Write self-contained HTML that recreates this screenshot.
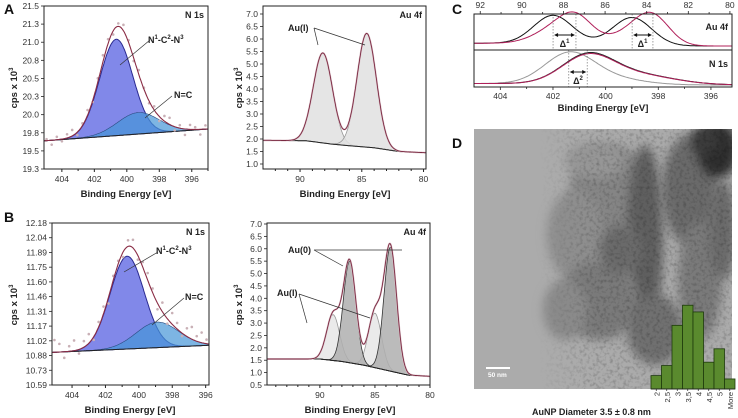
<!DOCTYPE html>
<html><head><meta charset="utf-8"><style>
html,body{margin:0;padding:0;background:#fff;width:738px;height:418px;overflow:hidden}
svg{display:block;font-family:"Liberation Sans",Arial,sans-serif}
.t{font-size:8.5px;fill:#333}
.ti{font-size:9.5px;font-weight:bold;fill:#222}
.pl{font-size:14px;font-weight:bold;fill:#111}
.an{font-size:9px;font-weight:bold;fill:#222}
</style></head><body>
<svg id="fig" width="738" height="418" viewBox="0 0 738 418">
<defs>
<filter id="bl" x="-50%" y="-50%" width="200%" height="200%"><feGaussianBlur stdDeviation="5"/></filter>
<filter id="noise" x="0" y="0" width="100%" height="100%"><feTurbulence type="fractalNoise" baseFrequency="0.3" numOctaves="2" seed="3"/><feColorMatrix type="matrix" values="0 0 0 0 0  0 0 0 0 0  0 0 0 0 0  0 0 0 -2.2 1.2"/></filter>
<linearGradient id="fadeG" x1="0" x2="1" y1="0" y2="0"><stop offset="0" stop-color="#000"/><stop offset="0.25" stop-color="#000"/><stop offset="0.45" stop-color="#fff"/><stop offset="1" stop-color="#fff"/></linearGradient>
<mask id="fadeM"><rect x="474" y="129" width="258" height="260" fill="url(#fadeG)"/></mask>
<clipPath id="temclip"><rect x="474" y="129" width="258" height="260"/></clipPath>
</defs>
</svg>
<script>
// ---------- data ----------
const aN1sPeaks = [[400.65,1.30,2.4],[399.3,0.29,3.0]];          // center, height, fwhm
const aN1sBase = [[405.1,19.68],[395,19.84]];
const aN1sNoise = [0.02,-0.06,0.04,-0.03,0.05,0.08,-0.04,0.03,0.07,-0.02,0.05,0.09,0.06,-0.05,0.04,0.08,0.03,-0.04,0.06,0.02,-0.03,0.05,-0.06,0.07,0.09,-0.05,0.04,-0.08,0.06,0.03,-0.07,0.05];
const aAuPeaks = [[88.15,3.6,1.85],[84.6,4.55,1.85]];
const aAuBase = [[93,1.95],[89.5,1.93],[87.5,1.8],[86,1.73],[84,1.65],[82,1.5],[79.8,1.45]];
const bN1sPeaks = [[400.7,0.91,2.4],[398.9,0.25,3.0]];
const bN1sBase = [[405.2,10.91],[395.8,10.98]];
const bN1sNoise = [0.12,0.08,-0.06,0.05,0.1,-0.04,0.06,0.09,-0.03,0.05,0.07,-0.06,0.04,0.03,-0.05,0.06,0.08,-0.04,0.05,0.07,0.04,-0.06,0.09,-0.05,0.11,0.06,-0.03,0.08,0.12,0.05,0.1,0.04];
const bAu0Peaks = [[87.3,4.1,1.35],[83.6,5.0,1.35]];
const bAu1Peaks = [[88.8,1.85,1.4],[85.0,2.2,1.4]];
const bAuBase = [[94.8,1.55],[90,1.55],[88,1.45],[86,1.3],[84,1.1],[82,0.9],[80,0.85]];
const cAuRef = [[88.5,1,2.2],[84.7,1,2.2]];
const cAuNew = [[87.4,1,1.9],[83.7,1.05,1.9],[88.6,0.45,2.2],[84.8,0.45,2.2]];
const cN1Ref = [[401.4,1,2.2],[400.0,0.25,3.0]];
const cN1New = [[400.7,0.9,2.3],[398.9,0.35,3.4]];
const histCats = ["2","2,5","3","3,5","4","4,5","5","More"];
const histVals = [4,7,19,25,23,8,12,3];
const yTicksAN = ["19.3","19.5","19.8","20.0","20.3","20.5","20.8","21.0","21.3","21.5"];
const yTicksBN = ["10.59","10.73","10.88","11.02","11.17","11.31","11.46","11.60","11.75","11.89","12.04","12.18"];
const auTicks = [0.5,1.0,1.5,2.0,2.5,3.0,3.5,4.0,4.5,5.0,5.5,6.0,6.5,7.0];

// ---------- helpers ----------
const svg=document.getElementById('fig');const NS='http://www.w3.org/2000/svg';
function mk(tag,attrs,parent){const e=document.createElementNS(NS,tag);for(const k in attrs)e.setAttribute(k,attrs[k]);(parent||svg).appendChild(e);return e;}
function g(x,p){return p[1]*Math.exp(-4*Math.LN2*(x-p[0])*(x-p[0])/(p[2]*p[2]));}
function base(b,x){for(let i=0;i<b.length-1;i++){const a=b[i],c=b[i+1];if((x<=a[0]&&x>=c[0])){return a[1]+(c[1]-a[1])*(x-a[0])/(c[0]-a[0]);}}return x>b[0][0]?b[0][1]:b[b.length-1][1];}
function scale(box,xr,yr){return{sx:x=>box[0]+(x-xr[0])/(xr[1]-xr[0])*(box[2]-box[0]),sy:y=>box[3]-(y-yr[0])/(yr[1]-yr[0])*(box[3]-box[1])};}
function curvePts(s,xr,f,n){n=n||200;const pts=[];for(let i=0;i<=n;i++){const x=xr[0]+(xr[1]-xr[0])*i/n;pts.push([s.sx(x),s.sy(f(x))]);}return pts;}
function path(pts){return 'M'+pts.map(p=>p[0].toFixed(1)+','+p[1].toFixed(1)).join('L');}
function area(s,xr,fTop,fBot){const t=curvePts(s,xr,fTop),b=curvePts(s,xr,fBot).reverse();return path(t.concat(b))+'Z';}
function frame(box,name){const r=mk('rect',{x:box[0],y:box[1],width:box[2]-box[0],height:box[3]-box[1],fill:'none',stroke:'#222','stroke-width':1});}
function xaxis(s,box,vals,minor,name){vals.forEach(v=>{const x=s.sx(v);mk('line',{x1:x,x2:x,y1:box[3],y2:box[3]+3,stroke:'#222'});const t=mk('text',{x:x,y:box[3]+13,'text-anchor':'middle',class:'t'});t.textContent=v;});
 minor.forEach(v=>{const x=s.sx(v);if(x<box[0]-0.5||x>box[2]+0.5)return;mk('line',{x1:x,x2:x,y1:box[3],y2:box[3]+2,stroke:'#222'});});}
function ytitle(x,y,name){const t=mk('text',{x:x,y:y,class:'ti','text-anchor':'middle',transform:`rotate(-90 ${x} ${y})`});t.innerHTML='cps x 10<tspan dy="-4" font-size="6">3</tspan>';}
function xtitle(x,y,name){const t=mk('text',{x:x,y:y,class:'ti','text-anchor':'middle'});t.textContent='Binding Energy [eV]';}
function label(x,y,txt,cls,name,anchor){const t=mk('text',{x:x,y:y,class:cls,'text-anchor':anchor||'start'});t.innerHTML=txt;return t;}
function line(x1,y1,x2,y2,c,w,extra){const l=mk('line',Object.assign({x1,y1,x2,y2,stroke:c||'#333','stroke-width':w||0.7},extra||{}));return l;}

// ---------- panel letters ----------
label(4,14,'A','pl','panel-label-a');label(4,222,'B','pl','panel-label-b');label(452,14,'C','pl','panel-label-c');label(452,148,'D','pl','panel-label-d');

// ---------- N1s panels ----------
function n1s(box,xr,yr,peaks,b,noise,ticks,tag){
 const s=scale(box,xr,yr);
 const fb=x=>base(b,x);
 const f0=x=>fb(x)+g(x,peaks[0]);const f1=x=>fb(x)+g(x,peaks[1]);
 const fe=x=>fb(x)+g(x,peaks[0])+g(x,peaks[1]);
 let e=mk('path',{d:area(s,xr,f0,fb),fill:'rgba(80,90,225,0.72)',stroke:'#2a2a90','stroke-width':1});
 e=mk('path',{d:area(s,xr,f1,fb),fill:'rgba(70,150,215,0.7)',stroke:'#2a4a80','stroke-width':0.6});
 e=mk('path',{d:path(curvePts(s,xr,fb)),fill:'none',stroke:'#222','stroke-width':1});
 noise.forEach((d,i)=>{const x=xr[0]+(xr[1]-xr[0])*(i+0.5)/noise.length;const c=mk('circle',{cx:s.sx(x),cy:s.sy(fe(x)+d),r:1.3,fill:'#c9b0b6'});});
 e=mk('path',{d:path(curvePts(s,xr,fe)),fill:'none',stroke:'#8a2c45','stroke-width':1.1});
 frame(box,tag+'-plot-frame');
 const n=ticks.length;ticks.forEach((t,i)=>{const y=box[3]-(box[3]-box[1])*i/(n-1);line(box[0]-3,y,box[0],y,'#222',0.8);label(box[0]-5,y+3,t,'t',tag+'-y-tick-label','end');});
 xaxis(s,box,[404,402,400,398,396],[403,401,399,397,395],tag+'-x');
 label(box[2]-4,box[1]+12,'N 1s','an',tag+'-title','end');
 return s;
}
n1s([44,6,208,169],[405.1,395],[19.3,21.5],aN1sPeaks,aN1sBase,aN1sNoise,yTicksAN,'a-n1s');
ytitle(17,88,'a-n1s-y-title');xtitle(126,197,'a-n1s-x-title');
label(148,43,'N<tspan dy="-4" font-size="6">1</tspan><tspan dy="4">-C</tspan><tspan dy="-4" font-size="6">2</tspan><tspan dy="4">-N</tspan><tspan dy="-4" font-size="6">3</tspan>','an','a-label-n1c2n3');
line(150,40,120,65);label(174,98,'N=C','an','a-label-nc');line(172,96,145,118);

n1s([52,223,209,385],[405.2,395.8],[10.59,12.18],bN1sPeaks,bN1sBase,bN1sNoise,yTicksBN,'b-n1s');
ytitle(17,305,'b-n1s-y-title');xtitle(130,413,'b-n1s-x-title');
label(156,254,'N<tspan dy="-4" font-size="6">1</tspan><tspan dy="4">-C</tspan><tspan dy="-4" font-size="6">2</tspan><tspan dy="4">-N</tspan><tspan dy="-4" font-size="6">3</tspan>','an','b-label-n1c2n3');
line(158,252,124,272);label(185,300,'N=C','an','b-label-nc');line(184,298,152,325);

// ---------- Au 4f panels ----------
function au(box,xr,yr,groups,b,tag,xt,xm){
 const s=scale(box,xr,yr);const fb=x=>base(b,x);
 const all=[].concat(...groups.map(gr=>gr.peaks));
 const fe=x=>fb(x)+all.reduce((a,p)=>a+g(x,p),0);
 groups.forEach(gr=>gr.peaks.forEach(p=>{const e=mk('path',{d:area(s,xr,x=>fb(x)+g(x,p),fb),fill:gr.fill,stroke:gr.stroke,'stroke-width':0.8});}));
 let e=mk('path',{d:path(curvePts(s,xr,fb)),fill:'none',stroke:'#222','stroke-width':1});
 mk('path',{d:path(curvePts(s,xr,fe,300)),fill:'none',stroke:'#dcc0c8','stroke-width':1.8});
 e=mk('path',{d:path(curvePts(s,xr,fe,300)),fill:'none',stroke:'#7a2a42','stroke-width':0.9});
 frame(box,tag+'-plot-frame');
 auTicks.filter(v=>v>=yr[0]-1e-6&&v<=yr[1]+1e-6).forEach(v=>{const y=s.sy(v);line(box[0]-3,y,box[0],y,'#222',0.8);label(box[0]-5,y+3,v.toFixed(1),'t',tag+'-y-tick-label','end');});
 xaxis(s,box,xt,xm,tag+'-x');
 label(box[2]-4,box[1]+12,'Au 4f','an',tag+'-title','end');
 return s;
}
au([263,6,426,169],[93,79.8],[0.8,7.32],[{name:'au1',peaks:aAuPeaks,fill:'rgba(224,224,224,0.85)',stroke:'#999'}],aAuBase,'a-au4f',[90,85,80],[92,91,89,88,87,86,84,83,82,81]);
ytitle(242,88,'a-au4f-y-title');xtitle(345,197,'a-au4f-x-title');
label(288,31,'Au(I)','an','a-label-aui');line(314,28,318,45);line(314,28,365,45);

au([267,223,430,385],[94.8,80],[0.5,7.04],[{name:'au1',peaks:bAu1Peaks,fill:'rgba(232,232,232,0.9)',stroke:'#999'},{name:'au0',peaks:bAu0Peaks,fill:'rgba(175,175,175,0.85)',stroke:'#333'}],bAuBase,'b-au4f',[90,85,80],[94,93,92,91,89,88,87,86,84,83,82,81]);
ytitle(242,305,'b-au4f-y-title');xtitle(350,413,'b-au4f-x-title');
label(288,253,'Au(0)','an','b-label-au0');line(314,250,343,266);line(314,250,402,250);
label(277,296,'Au(I)','an','b-label-aui');line(299,294,307,323);line(299,294,370,318);

// ---------- panel C ----------
(function(){
 const boxT=[474,14,732,50],boxB=[474,50,732,87];
 const sT=scale(boxT,[92.3,79.9],[0,1]);const sBt=scale(boxB,[405,395.2],[0,1]);
 const yT=v=>46-(v)*28, yB=v=>85-v*30;
 const bt=x=>0.1/(1+Math.exp(-(x-86)*1.2));
 const refA=x=>bt(x)+cAuRef.reduce((a,p)=>a+g(x,p),0);
 const newA=x=>bt(x)+cAuNew.reduce((a,p)=>a+g(x,p),0)*0.92;
 const mkc=(s,xr,f,yf,c,name,w)=>{const pts=[];for(let i=0;i<=200;i++){const x=xr[0]+(xr[1]-xr[0])*i/200;pts.push([s.sx(x),yf(f(x))]);}const e=mk('path',{d:path(pts),fill:'none',stroke:c,'stroke-width':w||1});};
 mkc(sT,[92.3,79.9],refA,yT,'#111','c-au4f-reference');
 mkc(sT,[92.3,79.9],newA,yT,'#b0205a','c-au4f-sample');
 const bn=x=>0.05/(1+Math.exp(-(x-401.5)*1.5));
 mkc(sBt,[405,395.2],x=>bn(x)+cN1Ref.reduce((a,p)=>a+g(x,p),0)*0.95,yB,'#999','c-n1s-reference');
 mkc(sBt,[405,395.2],x=>bn(x)+cN1New.reduce((a,p)=>a+g(x,p),0),yB,'#222','c-n1s-sample-a',1.1);
 mkc(sBt,[405,395.2],x=>bn(x)+cN1New.reduce((a,p)=>a+g(x,p),0)*0.97,yB,'#b0205a','c-n1s-sample-b');
 [[cAuRef[0][0],cAuNew[0][0]],[cAuRef[1][0],cAuNew[1][0]]].forEach((pr,i)=>{const x1=sT.sx(pr[0]),x2=sT.sx(pr[1]);
  line(x1,14,x1,50,'#777',0.7,{'stroke-dasharray':'1.5,1.5'});line(x2,14,x2,50,'#777',0.7,{'stroke-dasharray':'1.5,1.5'});
  line(x1+2,35,x2-2,35,'#111',0.9);mk('path',{d:`M${x1+1},35l4,-2v4z M${x2-1},35l-4,-2v4z`,fill:'#111'});
  label((x1+x2)/2,47,'Δ<tspan dy="-4" font-size="6">1</tspan>','an','c-delta1-label-'+i,'middle');});
 {const x1=sBt.sx(cN1Ref[0][0]),x2=sBt.sx(cN1New[0][0]);
  line(x1,50,x1,87,'#777',0.7,{'stroke-dasharray':'1.5,1.5'});line(x2,50,x2,87,'#777',0.7,{'stroke-dasharray':'1.5,1.5'});
  line(x1+2,72,x2-2,72,'#111',0.9);mk('path',{d:`M${x1+1},72l4,-2v4z M${x2-1},72l-4,-2v4z`,fill:'#111'});
  label((x1+x2)/2,84,'Δ<tspan dy="-4" font-size="6">2</tspan>','an','c-delta2-label','middle');}
 frame([474,14,732,87],'c-plot-frame');line(474,50,732,50,'#222',1);
 [92,90,88,86,84,82,80].forEach(v=>{const x=sT.sx(v);line(x,14,x,11,'#222',0.8);label(x,8,v,'t','c-top-tick-label','middle');});
 [91,89,87,85,83,81].forEach(v=>{const x=sT.sx(v);line(x,14,x,12,'#222',0.8);});
 [404,402,400,398,396].forEach(v=>{const x=sBt.sx(v);line(x,87,x,90,'#222',0.8);label(x,99,v,'t','c-bottom-tick-label','middle');});
 [403,401,399,397].forEach(v=>{const x=sBt.sx(v);line(x,87,x,89,'#222',0.8);});
 label(728,30,'Au 4f','an','c-au4f-title','end');label(728,67,'N 1s','an','c-n1s-title','end');
 xtitle(603,111,'c-x-title');
})();

// ---------- panel D (TEM + histogram) ----------
(function(){
 const gr=mk('g',{'clip-path':'url(#temclip)'});
 mk('rect',{x:474,y:129,width:258,height:260,fill:'#ababab'},gr);
 const blobs=[[610,190,40,45,'#858585'],[575,235,28,45,'#8e8e8e'],[645,240,18,95,'#5e5e5e'],[690,190,28,55,'#6a6a6a'],[718,150,20,28,'#2e2e2e'],[705,140,14,14,'#3a3a3a'],[600,300,40,40,'#7a7a7a'],[655,330,28,35,'#707070'],[565,310,22,30,'#8a8a8a'],[700,280,22,60,'#7a7a7a'],[620,250,22,25,'#6a6a6a'],[722,230,14,50,'#6a6a6a'],[595,160,30,18,'#969696']];
 blobs.forEach(b=>mk('ellipse',{cx:b[0],cy:b[1],rx:b[2],ry:b[3],fill:b[4],filter:'url(#bl)'},gr));
 const ng=mk('g',{mask:'url(#fadeM)',opacity:0.22},gr);
 mk('rect',{x:474,y:129,width:258,height:260,fill:'#000',filter:'url(#noise)'},ng);
 mk('rect',{x:486,y:367,width:24,height:2,fill:'#fff'},gr);
 const sb=mk('text',{x:488,y:377,'font-size':'6.5','font-weight':'bold',fill:'#fff'},gr);sb.textContent='50 nm';
 
 const x0=651,bw=10.5,y0=389,k=3.35;
 histVals.forEach((v,i)=>{const r=mk('rect',{x:x0+i*bw,y:y0-v*k,width:bw,height:v*k,fill:'#5a8a2e',stroke:'#1d3a0c','stroke-width':0.8});
  
  const cx=x0+i*bw+bw/2;line(cx,y0,cx,y0+2,'#222',0.7);
  const t=mk('text',{x:cx+3,y:y0+3,'font-size':'7.5',fill:'#333','text-anchor':'end',transform:`rotate(-90 ${cx+3} ${y0+3})`});t.textContent=histCats[i];
  });
 line(x0,y0,x0+8*bw,y0,'#222',0.8);
 label(532,415,'AuNP Diameter 3.5 ± 0.8 nm','an','tem-caption');
})();
</script>
</body></html>
